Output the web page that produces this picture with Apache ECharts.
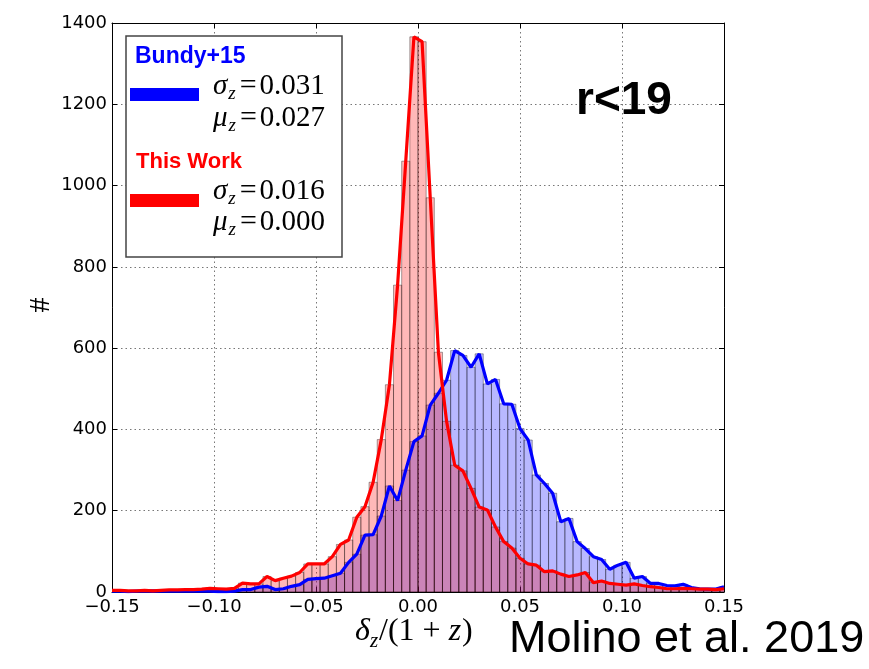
<!DOCTYPE html>
<html>
<head>
<meta charset="utf-8">
<script src="https://cdn.jsdelivr.net/npm/echarts@6/dist/echarts.min.js"></script>
<style>
html,body{margin:0;padding:0;background:#fff;}
#chart{width:869px;height:669px;}
</style>
</head>
<body>
<div id="chart"></div>
<script>
// bin centres of the histogram (delta_z/(1+z))
const binCenters = [-0.150,-0.146,-0.142,-0.138,-0.134,-0.130,-0.126,-0.122,-0.118,-0.114,-0.110,-0.106,-0.102,-0.098,-0.094,-0.090,-0.086,-0.082,-0.078,-0.074,-0.070,-0.066,-0.062,-0.058,-0.054,-0.050,-0.046,-0.042,-0.038,-0.034,-0.030,-0.026,-0.022,-0.018,-0.014,-0.010,-0.006,-0.002,0.002,0.006,0.010,0.014,0.018,0.022,0.026,0.030,0.034,0.038,0.042,0.046,0.050,0.054,0.058,0.062,0.066,0.070,0.074,0.078,0.082,0.086,0.090,0.094,0.098,0.102,0.106,0.110,0.114,0.118,0.122,0.126,0.130,0.134,0.138,0.142,0.146,0.150];
const binWidth = 0.004;
// Bundy+15 counts
const bundyCounts = [2,2,1,2,2,3,2,2,3,2,2,3,2,1,1,2,6,6,12,14,6,8,14,18,31,33,34,40,46,73,93,140,141,187,261,225,300,370,384,460,489,521,594,582,553,586,512,523,463,462,402,374,288,267,243,173,181,124,107,87,80,56,66,73,34,38,21,21,16,15,19,11,8,7,7,13];
// This Work counts
const thisWorkCounts = [4,4,3,3,4,3,4,5,5,6,6,7,9,8,7,9,22,20,20,38,28,34,39,48,69,69,69,87,117,128,184,210,270,375,510,755,1060,1366,1354,970,590,420,312,298,255,209,202,160,124,108,83,69,66,50,52,44,38,42,48,23,27,21,19,17,20,16,13,11,8,8,9,8,7,7,6,8];
const xTicks = [-0.15,-0.10,-0.05,0.00,0.05,0.10,0.15];
const yTicks = [0,200,400,600,800,1000,1200,1400];
const legendEntries = [
  {name:'Bundy+15', sigma:'0.031', mu:'0.027'},
  {name:'This Work', sigma:'0.016', mu:'0.000'}
];

const chart = echarts.init(document.getElementById('chart'));
const pairs = arr => binCenters.map((c,i)=>[c, arr[i]]);

function barRender(fill){
  return function(params, api){
    const c = api.value(0), v = api.value(1);
    const p0 = api.coord([c - binWidth/2, v]);
    const p1 = api.coord([c + binWidth/2, 0]);
    return {
      type:'rect',
      shape:{x:p0[0], y:p0[1], width:p1[0]-p0[0], height:p1[1]-p0[1]},
      style:{fill:fill, stroke:'rgba(0,0,0,0.35)', lineWidth:1}
    };
  };
}

const fmtX = v => { const s = Math.abs(v).toFixed(2); return (v < -1e-9 ? '\u2212' : '') + s; };
const fmtY = v => String(v);

const axisCommon = {
  axisLine:{show:true, onZero:false, lineStyle:{color:'#000', width:1}},
  axisTick:{show:true, inside:true, length:5, lineStyle:{color:'#000'}},
};

const serif = 'Liberation Serif, DejaVu Serif, serif';
const sans = 'Liberation Sans, Arial, sans-serif';

// helper: lay out a run of text pieces horizontally using measured widths
const mctx = document.createElement('canvas').getContext('2d');
function textRun(x, cy, parts, z){
  const out = [];
  let cx = x;
  parts.forEach(p => {
    mctx.font = p.font;
    out.push({type:'text', z:z, x:cx, y:cy + (p.dy||0), style:{text:p.t, fill:'#000', font:p.font, verticalAlign:'middle'}});
    cx += mctx.measureText(p.t).width + (p.gap||0);
  });
  return out;
}

let graphics = [
  {type:'rect', z:100, shape:{x:126, y:36, width:216, height:221}, style:{fill:'#fff', stroke:'#444', lineWidth:1.5}},
  {type:'text', z:101, left:135, top:45, style:{text:legendEntries[0].name, fill:'#0000ff', font:'bold 23px ' + sans}},
  {type:'rect', z:101, shape:{x:130, y:88, width:69, height:13}, style:{fill:'#0000ff'}},
  {type:'text', z:101, left:136, top:151, style:{text:legendEntries[1].name, fill:'#ff0000', font:'bold 22px ' + sans}},
  {type:'rect', z:101, shape:{x:130, y:194, width:69, height:13}, style:{fill:'#ff0000'}},
  {type:'text', z:100, left:576, top:78, style:{text:'r<19', fill:'#000', font:'bold 46px ' + sans}},
  {type:'text', z:100, left:509, top:617, style:{text:'Molino et al. 2019', fill:'#000', font:'45px ' + sans}},
  {type:'text', z:100, x:41, y:305, rotation:Math.PI/2, style:{text:'#', fill:'#000', font:'30px ' + serif, align:'center', verticalAlign:'middle'}}
];
// math lines in legend
const mathLines = [
  {sym:'\u03c3', val:legendEntries[0].sigma, cy:86},
  {sym:'\u03bc', val:legendEntries[0].mu, cy:118},
  {sym:'\u03c3', val:legendEntries[1].sigma, cy:191},
  {sym:'\u03bc', val:legendEntries[1].mu, cy:222}
];
mathLines.forEach(m => {
  graphics = graphics.concat(textRun(213, m.cy, [
    {t:m.sym, font:'italic 29px ' + serif, gap:1},
    {t:'z', font:'italic 19px ' + serif, dy:8, gap:4},
    {t:'=', font:'30px ' + serif, gap:3},
    {t:m.val, font:'29px ' + serif}
  ], 101));
});
// x axis title  δz/(1+z)
graphics = graphics.concat(textRun(355, 632, [
  {t:'\u03b4', font:'italic 32px ' + serif},
  {t:'z', font:'italic 21px ' + serif, dy:9, gap:1},
  {t:'/(1', font:'32px ' + serif, gap:8},
  {t:'+', font:'32px ' + serif, gap:8},
  {t:'z', font:'italic 32px ' + serif, gap:1},
  {t:')', font:'32px ' + serif}
], 100));

chart.setOption({
  animation:false,
  backgroundColor:'#fff',
  grid:{left:112, right:145, top:23, bottom:77, containLabel:false},
  xAxis:[
    Object.assign({type:'value', min:-0.15, max:0.15, interval:0.05, position:'bottom',
      axisLabel:{formatter:fmtX, color:'#000', fontSize:18, fontFamily:'DejaVu Sans', margin:6},
      splitLine:{show:true, lineStyle:{color:'#777', type:[1.5,3], width:1}}}, axisCommon),
    Object.assign({type:'value', min:-0.15, max:0.15, interval:0.05, position:'top',
      axisLabel:{show:false}, splitLine:{show:false}}, axisCommon)
  ],
  yAxis:[
    Object.assign({type:'value', min:0, max:1400, interval:200, position:'left',
      axisLabel:{formatter:fmtY, color:'#000', fontSize:18, fontFamily:'DejaVu Sans', margin:5},
      splitLine:{show:true, lineStyle:{color:'#777', type:[1.5,3], width:1}}}, axisCommon),
    Object.assign({type:'value', min:0, max:1400, interval:200, position:'right',
      axisLabel:{show:false}, splitLine:{show:false}}, axisCommon)
  ],
  series:[
    {type:'custom', name:'Bundy+15 bars', renderItem:barRender('rgba(0,0,255,0.28)'), data:pairs(bundyCounts), clip:true, z:2},
    {type:'custom', name:'This Work bars', renderItem:barRender('rgba(255,0,0,0.28)'), data:pairs(thisWorkCounts), clip:true, z:3},
    {type:'line', name:'Bundy+15', data:pairs(bundyCounts), showSymbol:false, lineStyle:{color:'#0000ff', width:3.2}, z:4},
    {type:'line', name:'This Work', data:pairs(thisWorkCounts), showSymbol:false, lineStyle:{color:'#ff0000', width:3.2}, z:5}
  ],
  graphic:graphics
});
</script>
</body>
</html>
